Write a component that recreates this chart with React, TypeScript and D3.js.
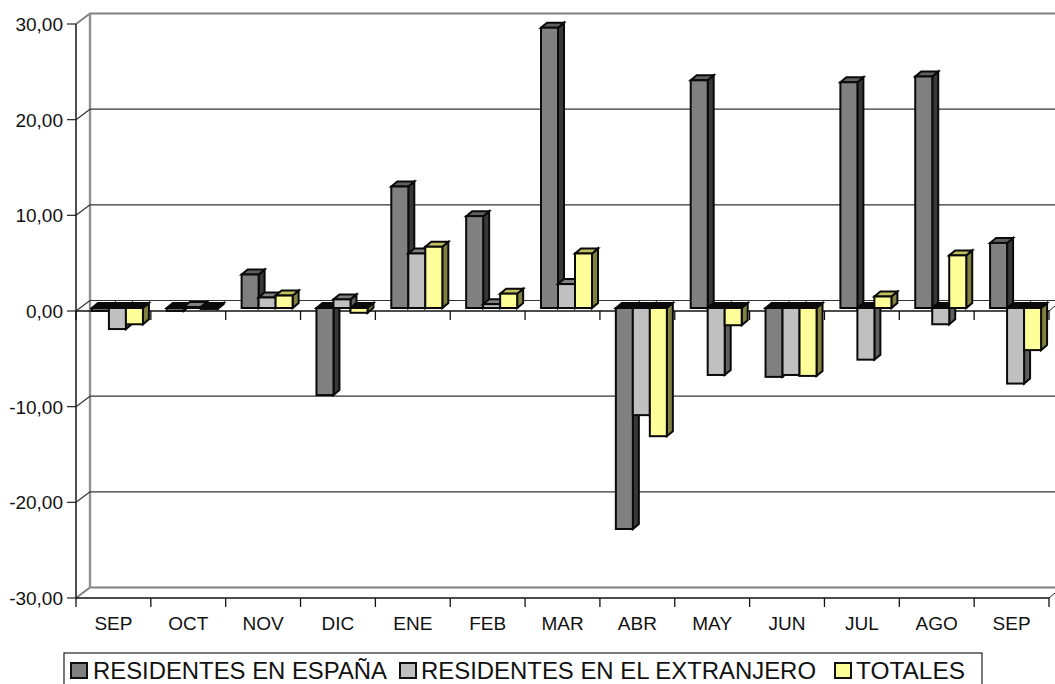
import React from "react";
import * as d3 from "d3";

const categories = ["SEP", "OCT", "NOV", "DIC", "ENE", "FEB", "MAR", "ABR", "MAY", "JUN", "JUL", "AGO", "SEP"];
const espana = [-0.3, -0.3, 3.5, -9.1, 12.7, 9.6, 29.3, -23.1, 23.8, -7.2, 23.6, 24.2, 6.8];
const extranjero = [-2.2, 0.1, 1.1, 0.9, 5.7, 0.4, 2.5, -11.2, -7.0, -7.0, -5.4, -1.7, -7.9];
const totales = [-1.7, -0.1, 1.3, -0.5, 6.4, 1.5, 5.7, -13.4, -1.8, -7.1, 1.2, 5.5, -4.4];
const seriesNames = ["RESIDENTES EN ESPAÑA", "RESIDENTES EN EL EXTRANJERO", "TOTALES"];
const seriesValues = [espana, extranjero, totales];
const seriesFront = ["#808080", "#c0c0c0", "#ffff99"];
const seriesSide = ["#383838", "#606060", "#808040"];
const seriesTop = ["#606060", "#808080", "#c0c060"];
const yTicks = [30, 20, 10, 0, -10, -20, -30];
const tickFormat = (v: number) => v.toFixed(2).replace(".", ",");

const X0 = 76, X1 = 1049, Y30 = 24, YM30 = 598;
const DX = 14, DY = 10.5; // wall depth
const BX = 4, BY = 3; // bar front offset from axis plane
const BDX = 6, BDY = 5; // bar depth

const x = d3.scaleBand<number>().domain(d3.range(categories.length)).range([X0, X1]);
const y = d3.scaleLinear().domain([30, -30]).range([Y30, YM30]);
const seriesBand = d3.scaleBand<number>().domain([0, 1, 2]).range([0, 51]);
const INK = "#0a0a0a";

function Bar({ cat, s }: { cat: number; s: number }) {
  const v = seriesValues[s][cat];
  const left = x(cat)! + (x.bandwidth() - 51) / 2 + BX + seriesBand(s)!;
  const w = seriesBand.bandwidth();
  const y0 = y(0) - BY;
  const yv = y(v) - BY;
  const top = Math.min(y0, yv), bot = Math.max(y0, yv);
  const right = left + w;
  const sideFill = seriesSide[s];
  const topFill = v < 0 ? "#0a0a0a" : seriesTop[s];
  const poly = (pts: number[][]) => pts.map((p) => p.join(",")).join(" ");
  return (
    <g stroke={INK} strokeWidth={2} strokeLinejoin="miter">
      <polygon points={poly([[right, top], [right + BDX, top - BDY], [right + BDX, bot - BDY], [right, bot]])} fill={sideFill} />
      <polygon points={poly([[left, top], [left + BDX, top - BDY], [right + BDX, top - BDY], [right, top]])} fill={topFill} />
      <rect x={left} y={top} width={w} height={bot - top} fill={seriesFront[s]} />
    </g>
  );
}

export default function App() {
  const xTicks = d3.range(categories.length + 1).map((i) => X0 + i * x.step());
  const legendItems = [
    { sw: 71, tx: 93, len: 294 },
    { sw: 400, tx: 421, len: 395 },
    { sw: 835, tx: 856, len: 109 },
  ];
  return (
    <svg width={1055} height={684} style={{ position: "absolute", left: 0, top: 0, display: "block" }} fontFamily="'Liberation Sans', Arial, sans-serif">
      <rect width={1055} height={684} fill="#fff" />
      {/* back wall */}
      <path d={`M${X0},${Y30} L${X0 + DX},${Y30 - DY} L1055,${Y30 - DY}`} fill="none" stroke="#808080" strokeWidth={2} />
      <path d={`M${X0},${YM30} L${X0 + DX},${YM30 - DY} L1055,${YM30 - DY}`} fill="none" stroke="#808080" strokeWidth={2} />
      <line x1={X0 + DX} x2={X0 + DX} y1={Y30 - DY} y2={YM30 - DY} stroke="#909090" strokeWidth={2.4} />
      {yTicks.filter((t) => t !== 30 && t !== -30).map((t) => (
        <g key={t} stroke="#333" strokeWidth={1.2}>
          <line x1={X0 + DX} x2={1055} y1={y(t) - DY} y2={y(t) - DY} />
          <line x1={X0} x2={X0 + DX} y1={y(t)} y2={y(t) - DY} />
        </g>
      ))}
      <path d={`M${X1},${y(0)} L1055,${y(0) - 5}`} stroke="#222" fill="none" />
      <path d={`M${X1},${YM30} L1055,${YM30 - 5}`} stroke="#222" fill="none" />
      {/* axes */}
      <line x1={X0} x2={X0} y1={Y30} y2={YM30} stroke="#222" strokeWidth={1.6} />
      {yTicks.map((t) => (
        <g key={t}>
          <line x1={67} x2={X0} y1={y(t)} y2={y(t)} stroke="#222" strokeWidth={1.2} />
          <text x={63} y={y(t) + 7} textAnchor="end" fontSize={19} fill="#111">{tickFormat(t)}</text>
        </g>
      ))}
      {[y(0), YM30].map((yy) => (
        <g key={yy} stroke="#111" strokeWidth={1.3}>
          <line x1={X0} x2={X1} y1={yy} y2={yy} />
          {xTicks.map((tx) => <line key={tx} x1={tx} x2={tx} y1={yy} y2={yy + 9} />)}
        </g>
      ))}
      {categories.map((c, i) => (
        <text key={i} x={x(i)! + x.bandwidth() / 2} y={630} textAnchor="middle" fontSize={19} fill="#111">{c}</text>
      ))}
      {/* bars */}
      {categories.map((_, cat) => (
        <g key={cat}>{seriesBand.domain().map((s) => <Bar key={s} cat={cat} s={s} />)}</g>
      ))}
      {/* legend */}
      <rect x={64} y={653} width={918} height={50} fill="#fff" stroke="#222" strokeWidth={1.2} />
      {seriesNames.map((n, i) => (
        <g key={n}>
          <rect x={legendItems[i].sw} y={663} width={16} height={15} fill={seriesFront[i]} stroke="#111" strokeWidth={2} />
          <text x={legendItems[i].tx} y={678.5} fontSize={23.5} fill="#111" textLength={legendItems[i].len} lengthAdjust="spacingAndGlyphs">{n}</text>
        </g>
      ))}
    </svg>
  );
}
